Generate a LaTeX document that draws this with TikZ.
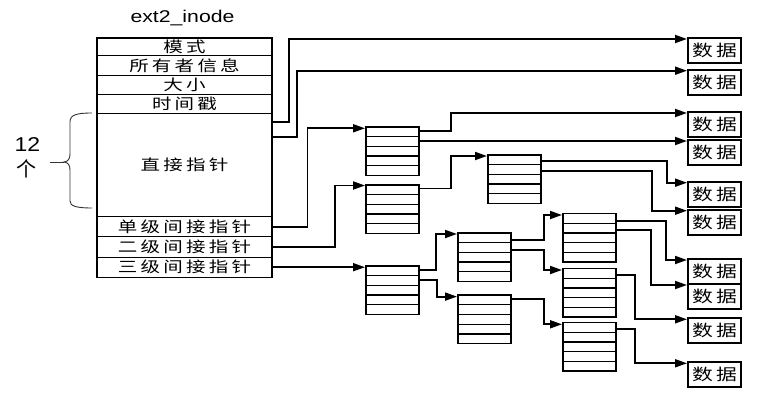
\documentclass[tikz,border=0pt]{standalone}
\usepackage{fontspec}
\setmainfont{Liberation Sans}
\newfontfamily\cjk{Noto Sans CJK SC}
\usetikzlibrary{arrows.meta,calc}
\newcommand\gp{\hspace{2.5pt}}
\newcommand\zh[1]{\scalebox{1.3}[1]{\cjk\fontsize{15pt}{15pt}\selectfont #1}}
\newcommand\zd[1]{\scalebox{1.3}[1]{\cjk\fontsize{16pt}{16pt}\selectfont #1}}
\begin{document}
\begin{tikzpicture}[x=1pt,y=-1pt,
  arr/.style={line width=1.8pt,-{Triangle[length=12pt,width=8pt]}},
  cell/.style={draw,line width=1.4pt,minimum width=175pt,inner sep=0pt,anchor=north},
  tbl/.style={draw,line width=1.6pt,minimum width=53pt,minimum height=48.5pt,inner sep=0pt,anchor=north west,
    path picture={\foreach \k in {1,2,3,4}{\draw[line width=1.2pt]
      ($(path picture bounding box.north west)!\k/5!(path picture bounding box.south west)$) -- ++(80pt,0pt);}}},
  data/.style={draw,line width=1.9pt,minimum width=53pt,minimum height=25pt,inner sep=0pt,anchor=north west}]
\useasboundingbox (0,0) rectangle (766,412);

% title and inode
\node (title) at (182.5,18) {\scalebox{1.25}[1]{\fontsize{17pt}{17pt}\selectfont ext2\_inode}};
\node[cell,minimum height=17.5pt] (r1) at (184.5,37.5) {\zh{模\gp 式}};
\node[cell,minimum height=20pt] (r2) at (184.5,55) {\zh{所\gp 有\gp 者\gp 信\gp 息}};
\node[cell,minimum height=19pt] (r3) at (184.5,75) {\zh{大\gp 小}};
\node[cell,minimum height=19pt] (r4) at (184.5,94) {\zh{时\gp 间\gp 戳}};
\node[cell,minimum height=103pt] (r5) at (184.5,113) {\zh{直\gp 接\gp 指\gp 针}};
\node[cell,minimum height=20pt] (r6) at (184.5,216) {\zh{单\gp 级\gp 间\gp 接\gp 指\gp 针}};
\node[cell,minimum height=20.5pt] (r7) at (184.5,236) {\zh{二\gp 级\gp 间\gp 接\gp 指\gp 针}};
\node[cell,minimum height=20pt] (r8) at (184.5,256.5) {\zh{三\gp 级\gp 间\gp 接\gp 指\gp 针}};

% brace and label
\node (n12) at (27.5,144.5) {\scalebox{1.15}[1]{\fontsize{20pt}{20pt}\selectfont 12}};
\node (ge) at (26.5,169) {\cjk\fontsize{20pt}{20pt}\selectfont 个};
\draw[line width=0.9pt,black!80] (92,113) .. controls (76,113) and (70,115) .. (70,122) -- (70,154)
  .. controls (70,159) and (68,161.5) .. (64,162) .. controls (68,162.5) and (70,165) .. (70,170)
  -- (70,201) .. controls (70,206) and (76,208) .. (92,208);
\draw[line width=0.9pt,black!80] (50,162) -- (64,162);

% index blocks
\node[tbl] (A) at (365,126) {};
\node[tbl] (B) at (365,184) {};
\node[tbl] (C) at (365,265) {};
\node[tbl] (D) at (487,154) {};
\node[tbl] (E) at (457,232) {};
\node[tbl] (F) at (457,294.3) {};
\node[tbl] (G) at (562,212.7) {};
\node[tbl] (H) at (562,267.7) {};
\node[tbl] (I) at (562,321.7) {};

% data blocks
\node[data] (d1) at (687,37) {\zd{数\gp 据}};
\node[data] (d2) at (687,68.7) {\zd{数\gp 据}};
\node[data] (d3) at (687,111) {\zd{数\gp 据}};
\node[data] (d4) at (687,139) {\zd{数\gp 据}};
\node[data] (d5) at (687,180.7) {\zd{数\gp 据}};
\node[data] (d6) at (687,208.7) {\zd{数\gp 据}};
\node[data] (d7) at (687,258) {\zd{数\gp 据}};
\node[data] (d8) at (687,283) {\zd{数\gp 据}};
\node[data] (d9) at (687,317.3) {\zd{数\gp 据}};
\node[data] (d10) at (687,361.3) {\zd{数\gp 据}};

% connectors from inode
\draw[arr] ($(r5.north east)+(0,9)$) -- ++(16,0) |- ([yshift=-2pt]d1.north west);
\draw[arr] ($(r5.north east)+(0,24)$) -- ++(24,0) |- ([yshift=-2pt]d2.north west);
\draw[arr] (r6.east) -- ++(34.7,0) |- ([yshift=-2.3pt]A.north west);
\draw[arr] (r7.east) -- ++(62,0) |- ([yshift=-1.5pt]B.north west);
\draw[arr] (r8.east) -- (r8.east -| C.west);

% from A, B
\draw[arr] ($(A.north east)+(0,5)$) -- ++(31,0) |- ([yshift=-2pt]d3.north west);
\coordinate (a2) at ($(A.north east)+(0,15)$);
\draw[arr] (a2) -- (a2 -| d4.west);
\draw[arr] ($(B.north east)+(0,4.5)$) -- ++(31,0) |- ([yshift=-2pt]D.north west);

% from D
\draw[arr] ($(D.north east)+(0,7)$) -- ++(125,0) |- ([yshift=-2pt]d5.north west);
\draw[arr] ($(D.north east)+(0,17)$) -- ++(110,0) |- ([yshift=-2pt]d6.north west);

% from C
\draw[arr] ($(C.north east)+(0,5)$) -- ++(16.5,0) |- ([yshift=-2pt]E.north west);
\draw[arr] ($(C.north east)+(0,15)$) -- ++(17,0) |- ([yshift=-2.3pt]F.north west);

% from E, F
\draw[arr] ($(E.north east)+(0,8)$) -- ++(32,0) |- ([yshift=-2.3pt]G.north west);
\draw[arr] ($(E.north east)+(0,18)$) -- ++(32,0) |- ([yshift=-2.3pt]H.north west);
\draw[arr] ($(F.north east)+(0,5)$) -- ++(32,0) |- ([yshift=-2.6pt]I.north west);

% from G, H, I
\draw[arr] ($(G.north east)+(0,8)$) -- ++(49,0) |- ([yshift=-2pt]d7.north west);
\draw[arr] ($(G.north east)+(0,17.3)$) -- ++(34.3,0) |- ([yshift=-2pt]d8.north west);
\draw[arr] ($(H.north east)+(0,7.3)$) -- ++(18,0) |- ([yshift=-2pt]d9.north west);
\draw[arr] ($(I.north east)+(0,7.6)$) -- ++(18,0) |- ([yshift=-2pt]d10.north west);
\end{tikzpicture}
\end{document}
